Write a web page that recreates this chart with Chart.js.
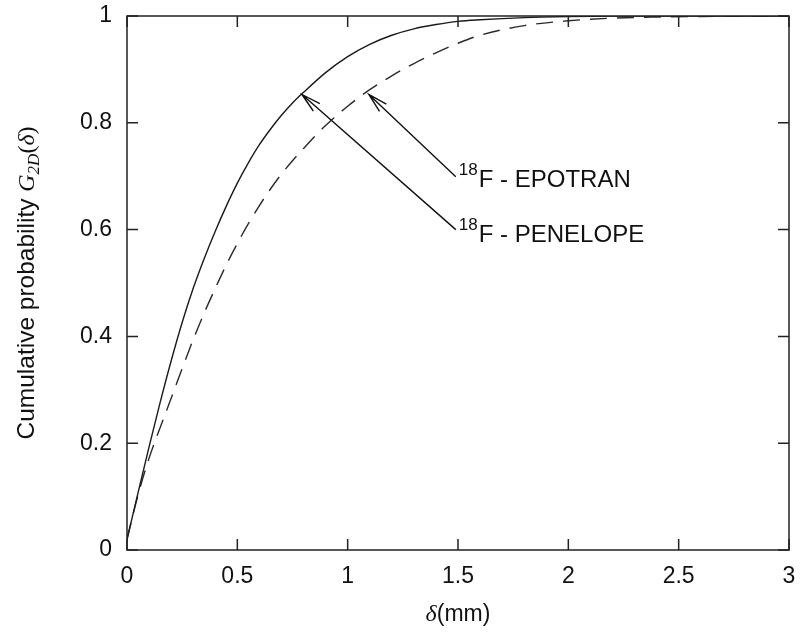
<!DOCTYPE html>
<html>
<head>
<meta charset="utf-8">
<script src="https://cdn.jsdelivr.net/npm/chart.js@4.4.0/dist/chart.umd.min.js"></script>
<style>
  html, body { margin: 0; padding: 0; background: #fff; }
</style>
</head>
<body>
<canvas id="myChart" width="802" height="632"></canvas>
<script>
// delta (mm) sample positions
const delta = [0, 0.05, 0.1, 0.15, 0.2, 0.25, 0.3, 0.35, 0.4, 0.45, 0.5, 0.55, 0.6, 0.65, 0.7, 0.75, 0.8, 0.9,
  1.0, 1.1, 1.2, 1.3, 1.4, 1.5, 1.6, 1.8, 2.0, 2.2, 2.4, 2.6, 2.8, 3.0];
// 18F - PENELOPE (solid)
const penelope = [0.02, 0.107, 0.193, 0.276, 0.354, 0.426, 0.49, 0.546, 0.597, 0.644, 0.687, 0.725, 0.759, 0.788, 0.814, 0.837, 0.857, 0.894,
  0.924, 0.947, 0.964, 0.976, 0.984, 0.99, 0.993, 0.997, 0.999, 1.0, 1.0, 1.0, 1.0, 1.0];
// 18F - EPOTRAN (dashed)
const epotran = [0.02, 0.103, 0.172, 0.229, 0.284, 0.34, 0.394, 0.444, 0.49, 0.534, 0.574, 0.611, 0.645, 0.676, 0.704, 0.729, 0.752, 0.795,
  0.831, 0.862, 0.888, 0.911, 0.931, 0.949, 0.964, 0.982, 0.991, 0.996, 0.998, 0.999, 1.0, 1.0];

const xTicks = [0, 0.5, 1, 1.5, 2, 2.5, 3];
const yTicks = [0, 0.2, 0.4, 0.6, 0.8, 1];

// annotation labels and arrows (data coordinates)
const noteNames = ["EPOTRAN", "PENELOPE"];
const noteTextX = [1.513, 1.513];
const noteTextY = [0.680, 0.577];
const arrowFromX = [1.49, 1.49];
const arrowFromY = [0.699, 0.600];
const arrowToX = [1.096, 0.793];
const arrowToY = [0.853, 0.853];

const SANS = "'Liberation Sans', Arial, Helvetica, sans-serif";
const SERIF = "'Liberation Serif', 'Times New Roman', serif";
Chart.defaults.font.family = SANS;
Chart.defaults.color = "#111";

function pts(ys) {
  return delta.map((d, i) => ({ x: d, y: ys[i] }));
}

function fmt(v) {
  return String(parseFloat(v.toFixed(2)));
}

const framePlugin = {
  id: "frame",
  afterDraw(chart) {
    const ctx = chart.ctx;
    const a = chart.chartArea;
    const xs = chart.scales.x, ys = chart.scales.y;
    ctx.save();
    ctx.strokeStyle = "#222";
    ctx.lineWidth = 1.5;
    ctx.strokeRect(a.left, a.top, a.right - a.left, a.bottom - a.top);
    // inward ticks, mirrored
    const tl = 11;
    ctx.beginPath();
    xTicks.forEach(v => {
      const px = xs.getPixelForValue(v);
      ctx.moveTo(px, a.bottom); ctx.lineTo(px, a.bottom - tl);
      ctx.moveTo(px, a.top); ctx.lineTo(px, a.top + tl);
    });
    yTicks.forEach(v => {
      const py = ys.getPixelForValue(v);
      ctx.moveTo(a.left, py); ctx.lineTo(a.left + tl, py);
      ctx.moveTo(a.right, py); ctx.lineTo(a.right - tl, py);
    });
    ctx.stroke();

    // arrows
    ctx.strokeStyle = "#111";
    ctx.lineWidth = 1.4;
    for (let i = 0; i < noteNames.length; i++) {
      const x0 = xs.getPixelForValue(arrowFromX[i]), y0 = ys.getPixelForValue(arrowFromY[i]);
      const x1 = xs.getPixelForValue(arrowToX[i]), y1 = ys.getPixelForValue(arrowToY[i]);
      const ang = Math.atan2(y0 - y1, x0 - x1);
      const hl = 20, hw = 0.25;
      ctx.beginPath();
      ctx.moveTo(x0, y0); ctx.lineTo(x1, y1);
      ctx.moveTo(x1 + hl * Math.cos(ang - hw), y1 + hl * Math.sin(ang - hw));
      ctx.lineTo(x1, y1);
      ctx.lineTo(x1 + hl * Math.cos(ang + hw), y1 + hl * Math.sin(ang + hw));
      ctx.stroke();

      // label: superscript 18, then "F - NAME"
      const tx = xs.getPixelForValue(noteTextX[i]), ty = ys.getPixelForValue(noteTextY[i]);
      ctx.fillStyle = "#111";
      ctx.textBaseline = "alphabetic";
      ctx.textAlign = "left";
      ctx.font = "17px " + SANS;
      ctx.fillText("18", tx - 2, ty - 12);
      const w18 = ctx.measureText("18").width;
      ctx.font = "24px " + SANS;
      ctx.fillText("F - " + noteNames[i], tx - 2 + w18 + 1, ty);
    }

    // axis titles with mixed fonts
    drawParts(ctx, [
      { t: "Cumulative probability ", f: "24.5px " + SANS },
      { t: "G", f: "italic 24px " + SERIF },
      { t: "2D", f: "italic 17px " + SERIF, dy: 5 },
      { t: "(", f: "24px " + SERIF },
      { t: "δ", f: "italic 24px " + SERIF },
      { t: ")", f: "24px " + SERIF }
    ], 34, (a.top + a.bottom) / 2, true);
    drawParts(ctx, [
      { t: "δ", f: "italic 24px " + SERIF },
      { t: "(mm)", f: "23px " + SANS }
    ], (a.left + a.right) / 2, 621, false);
    ctx.restore();
  }
};

function drawParts(ctx, parts, cx, cy, vertical) {
  let total = 0;
  parts.forEach(p => { ctx.font = p.f; p.w = ctx.measureText(p.t).width; total += p.w; });
  ctx.save();
  ctx.translate(cx, cy);
  if (vertical) ctx.rotate(-Math.PI / 2);
  ctx.fillStyle = "#111";
  ctx.textAlign = "left";
  ctx.textBaseline = "alphabetic";
  let x = -total / 2;
  parts.forEach(p => {
    ctx.font = p.f;
    ctx.fillText(p.t, x, p.dy || 0);
    x += p.w;
  });
  ctx.restore();
}

const chart = new Chart(document.getElementById("myChart"), {
  type: "line",
  data: {
    datasets: [
      {
        label: "18F - PENELOPE",
        data: pts(penelope),
        borderColor: "#1a1a1a",
        borderWidth: 1.4,
        pointRadius: 0,
        cubicInterpolationMode: "monotone",
        fill: false
      },
      {
        label: "18F - EPOTRAN",
        data: pts(epotran),
        borderColor: "#2a2a2a",
        borderWidth: 1.4,
        borderDash: [17, 10],
        pointRadius: 0,
        cubicInterpolationMode: "monotone",
        fill: false
      }
    ]
  },
  options: {
    responsive: false,
    animation: false,
    layout: { padding: { left: 0, top: 16, right: 13, bottom: 0 } },
    plugins: {
      legend: { display: false },
      tooltip: { enabled: false }
    },
    scales: {
      x: {
        type: "linear",
        min: 0,
        max: 3,
        grid: { display: false, drawTicks: false },
        border: { display: false },
        ticks: { stepSize: 0.5, padding: 13, font: { size: 23 }, maxRotation: 0, callback: fmt },
        afterFit: s => { s.height = 82; s.paddingLeft = 0; s.paddingRight = 0; }
      },
      y: {
        type: "linear",
        min: 0,
        max: 1,
        grid: { display: false, drawTicks: false },
        border: { display: false },
        ticks: { stepSize: 0.2, padding: 15, font: { size: 23 }, callback: fmt },
        afterFit: s => { s.width = 127; s.paddingTop = 0; s.paddingBottom = 0; }
      }
    }
  },
  plugins: [framePlugin]
});
</script>
</body>
</html>
